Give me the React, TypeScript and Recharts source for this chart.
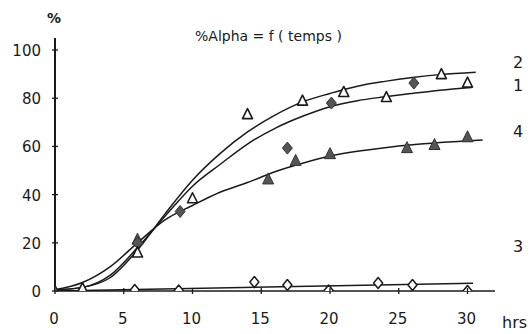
import React from "react";
import { ComposedChart, Line, Scatter, XAxis, YAxis } from "recharts";

// ---- data ----
const xTicks = [0, 5, 10, 15, 20, 25, 30];
const yTicks = [0, 20, 40, 60, 80, 100];

// fitted curves (hours, %)
const curve2Hours = [0, 2, 4, 6, 8, 10, 12, 14, 16, 18, 20, 22, 24, 26, 28, 30.6];
const curve2Values = [0.5, 1.5, 5.5, 17, 32, 46, 57, 66, 73, 78.5, 82, 85, 87, 88.6, 89.8, 90.8];
const curve1Hours = [0, 2, 4, 6, 8, 10, 12, 14, 16, 18, 20, 22, 24, 26, 28, 30.3];
const curve1Values = [0.5, 1.5, 6.5, 18, 31, 43.5, 52.5, 61, 67.5, 72.5, 76.5, 79, 80.6, 82, 83.3, 84.5];
const curve4Hours = [0, 2, 4, 6, 8, 10, 12, 14, 16, 18, 20, 22, 24, 26, 28, 31.1];
const curve4Values = [0.5, 3.5, 10, 20, 29.5, 35.5, 41, 45, 49.5, 53, 56, 58, 59.5, 60.7, 61.6, 62.7];
const curve3Hours = [0, 30.4];
const curve3Values = [0, 3.2];

// measured points
const openTriHours = [0, 2, 6, 10, 14, 18, 21, 24.1, 28.1, 30];
const openTriValues = [0, 1.2, 16, 38.5, 73.4, 79, 82.6, 80.5, 90, 86.5];
const filledDiamondHours = [6, 9.1, 16.9, 20.1, 26.1];
const filledDiamondValues = [20, 33, 59.3, 78, 86.3];
const filledTriHours = [6, 15.5, 17.5, 20, 25.6, 27.6, 30];
const filledTriValues = [21.5, 46.5, 54.2, 57, 59.5, 60.8, 64];
const openDiamondHours = [5.8, 9, 14.5, 16.9, 19.9, 23.5, 26, 30];
const openDiamondValues = [0.4, 0.2, 3.7, 2.5, 0.2, 3.3, 2.5, 0];

const curveLabels = ["2", "1", "4", "3"];

const toPts = (h: number[], v: number[]) => h.map((t, i) => ({ t, v: v[i] }));

const curve2 = toPts(curve2Hours, curve2Values);
const curve1 = toPts(curve1Hours, curve1Values);
const curve4 = toPts(curve4Hours, curve4Values);
const curve3 = toPts(curve3Hours, curve3Values);
const openTri = toPts(openTriHours, openTriValues);
const filledDiamond = toPts(filledDiamondHours, filledDiamondValues);
const filledTri = toPts(filledTriHours, filledTriValues);
const openDiamond = toPts(openDiamondHours, openDiamondValues);

const FONT = "'DejaVu Sans', 'Liberation Sans', sans-serif";
const INK = "#1a1a1a";
const GREY = "#555";

const OpenTriangle = (p: any) => (
  <path
    d={`M${p.cx},${p.cy - 5.5} L${p.cx + 5},${p.cy + 4.5} L${p.cx - 5},${p.cy + 4.5} Z`}
    fill="#fff"
    stroke={INK}
    strokeWidth={1.6}
    strokeLinejoin="round"
  />
);
const FilledTriangle = (p: any) => (
  <path
    d={`M${p.cx},${p.cy - 6} L${p.cx + 5.5},${p.cy + 5} L${p.cx - 5.5},${p.cy + 5} Z`}
    fill={GREY}
    stroke="#333"
    strokeWidth={1}
    strokeLinejoin="round"
  />
);
const FilledDiamond = (p: any) => (
  <path
    d={`M${p.cx},${p.cy - 6} L${p.cx + 5},${p.cy} L${p.cx},${p.cy + 6} L${p.cx - 5},${p.cy} Z`}
    fill={GREY}
    stroke="#333"
    strokeWidth={1}
    strokeLinejoin="round"
  />
);
const OpenDiamond = (p: any) => (
  <path
    d={`M${p.cx},${p.cy - 5.5} L${p.cx + 4.5},${p.cy} L${p.cx},${p.cy + 5.5} L${p.cx - 4.5},${p.cy} Z`}
    fill="#fff"
    stroke={INK}
    strokeWidth={1.5}
    strokeLinejoin="round"
  />
);

const YTick = (p: any) => (
  <g>
    <line x1={p.x - 3} x2={p.x + 3} y1={p.y} y2={p.y} stroke={INK} strokeWidth={1.3} />
    <text x={p.x - 14} y={p.y + 6} textAnchor="end" fontFamily={FONT} fontSize={15} fill={INK}>
      {p.payload.value}
    </text>
  </g>
);
const XTick = (p: any) => (
  <g>
    <line x1={p.x} x2={p.x} y1={p.y - 3} y2={p.y + 3} stroke={INK} strokeWidth={1.3} />
    <text x={p.x - 1} y={p.y + 33} textAnchor="middle" fontFamily={FONT} fontSize={15} fill={INK}>
      {p.payload.value}
    </text>
  </g>
);

const label = (text: string, left: number, top: number, size: number, extra: any = {}) => (
  <div
    key={text + left + top}
    style={{
      position: "absolute",
      left,
      top,
      fontFamily: FONT,
      fontSize: size,
      color: INK,
      lineHeight: 1,
      whiteSpace: "nowrap",
      ...extra,
    }}
  >
    {text}
  </div>
);

// right-side curve label positions (page coords)
const rightLabelTops = [55, 78, 124, 239];

export default function App() {
  return (
    <div style={{ position: "fixed", left: 0, top: 0, width: 530, height: 334, background: "#fff", overflow: "hidden" }}>
      <ComposedChart
        width={530}
        height={334}
        margin={{ top: 38, right: 35, left: 15, bottom: 3 }}
      >
        <XAxis
          type="number"
          dataKey="t"
          domain={[0, 32]}
          ticks={xTicks}
          tick={<XTick />}
          tickSize={0}
          tickMargin={0}
          tickLine={false}
          height={40}
          axisLine={{ stroke: INK, strokeWidth: 1.6 }}
          allowDataOverflow
        />
        <YAxis
          type="number"
          dataKey="v"
          domain={[0, 105]}
          ticks={yTicks}
          tick={<YTick />}
          tickSize={0}
          tickMargin={0}
          tickLine={false}
          width={40}
          axisLine={{ stroke: INK, strokeWidth: 2 }}
          allowDataOverflow
        />
        <Line data={curve3} dataKey="v" type="linear" stroke={INK} strokeWidth={1.5} dot={false} isAnimationActive={false} />
        <Line data={curve4} dataKey="v" type="monotone" stroke={INK} strokeWidth={1.5} dot={false} isAnimationActive={false} />
        <Line data={curve1} dataKey="v" type="monotone" stroke={INK} strokeWidth={1.5} dot={false} isAnimationActive={false} />
        <Line data={curve2} dataKey="v" type="monotone" stroke={INK} strokeWidth={1.5} dot={false} isAnimationActive={false} />
        <Scatter data={openDiamond} dataKey="v" shape={OpenDiamond} isAnimationActive={false} />
        <Scatter data={filledTri} dataKey="v" shape={FilledTriangle} isAnimationActive={false} />
        <Scatter data={filledDiamond} dataKey="v" shape={FilledDiamond} isAnimationActive={false} />
        <Scatter data={openTri} dataKey="v" shape={OpenTriangle} isAnimationActive={false} />
      </ComposedChart>
      {label("%", 47, 11, 14, { fontWeight: "bold" })}
      {label("%Alpha = f ( temps )", 195, 29, 14)}
      {label("hrs", 502, 315, 16)}
      {curveLabels.map((c, i) => label(c, 513, rightLabelTops[i], 16))}
    </div>
  );
}
